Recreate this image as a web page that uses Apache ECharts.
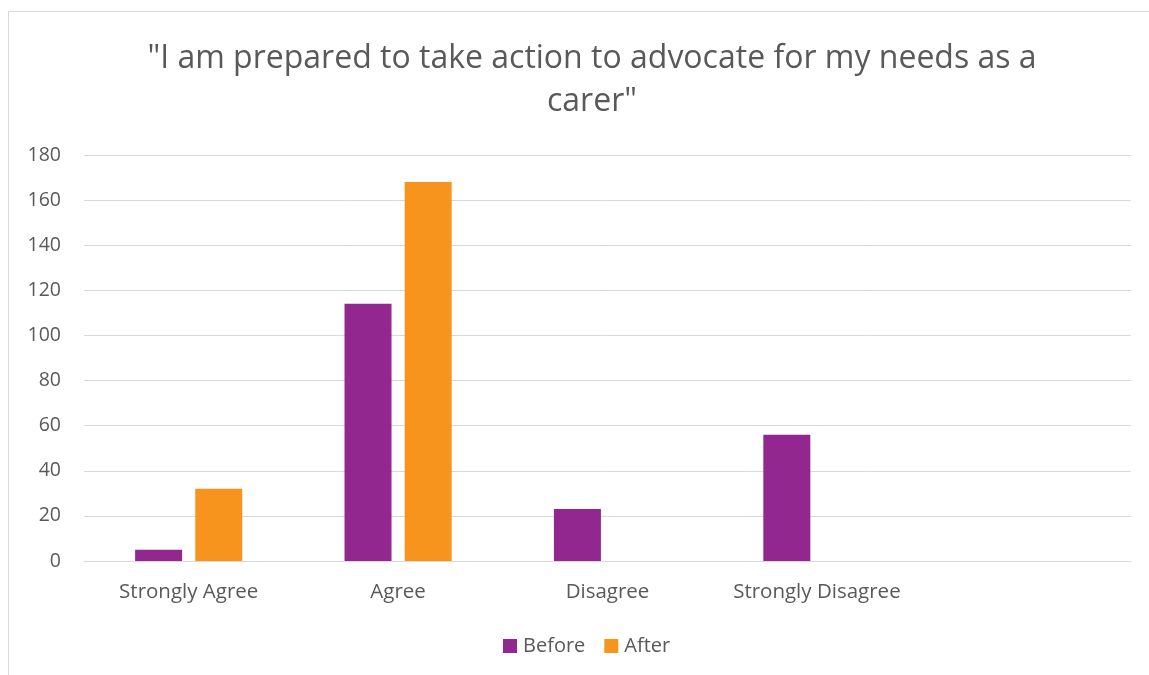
<!DOCTYPE html>
<html>
<head>
<meta charset="utf-8">
<script src="https://cdn.jsdelivr.net/npm/echarts@6/dist/echarts.min.js"></script>
<style>
  html, body { margin: 0; padding: 0; background: #ffffff; }
  #chart { width: 1149px; height: 675px; }
</style>
</head>
<body>
<div id="chart"></div>
<script>
// Survey responses, before and after the programme
const categories = ['Strongly Agree', 'Agree', 'Disagree', 'Strongly Disagree', ''];
const beforeValues = [5, 114, 23, 56, null];
const afterValues = [32, 168, null, null, null];
const titleText = '"I am prepared to take action to advocate for my needs as a\ncarer"';

const textColor = '#595959';
const fontFamily = '"Open Sans", "Noto Sans", sans-serif';

const chart = echarts.init(document.getElementById('chart'), null, { renderer: 'canvas' });

chart.setOption({
  backgroundColor: '#ffffff',
  animation: false,
  textStyle: { fontFamily: fontFamily, color: textColor },
  graphic: [{
    type: 'rect',
    shape: { x: 8.5, y: 11.5, width: 1160, height: 700 },
    style: { fill: 'none', stroke: '#d9d9d9', lineWidth: 1 },
    silent: true
  }],
  title: {
    text: titleText,
    left: 587,
    textAlign: 'center',
    top: 32,
    textStyle: {
      fontFamily: fontFamily,
      fontSize: 32,
      fontWeight: 'normal',
      color: textColor,
      lineHeight: 43
    }
  },
  legend: {
    bottom: 19,
    left: 503,
    padding: 0,
    itemWidth: 14,
    itemHeight: 14,
    itemGap: 19,
    icon: 'rect',
    textStyle: { fontFamily: fontFamily, fontSize: 20, color: textColor, padding: [0, 0, 0, 1] },
    data: ['Before', 'After']
  },
  grid: {
    left: 84,
    right: 18,
    top: 155,
    bottom: 114,
    containLabel: false
  },
  xAxis: {
    type: 'category',
    data: categories,
    axisLine: { show: true, lineStyle: { color: '#d9d9d9', width: 1 } },
    axisTick: { show: false },
    axisLabel: { fontFamily: fontFamily, fontSize: 20.5, color: textColor, margin: 21, interval: 0 }
  },
  yAxis: {
    type: 'value',
    min: 0,
    max: 180,
    interval: 20,
    axisLine: { show: false },
    axisTick: { show: false },
    axisLabel: { fontFamily: fontFamily, fontSize: 19.5, color: textColor, margin: 23 },
    splitLine: { lineStyle: { color: '#d9d9d9', width: 1 } }
  },
  series: [
    {
      name: 'Before',
      type: 'bar',
      data: beforeValues,
      barWidth: 47,
      barGap: '28%',
      itemStyle: { color: '#92278f' }
    },
    {
      name: 'After',
      type: 'bar',
      data: afterValues,
      barWidth: 47,
      itemStyle: { color: '#f7941d' }
    }
  ]
});
</script>
</body>
</html>
